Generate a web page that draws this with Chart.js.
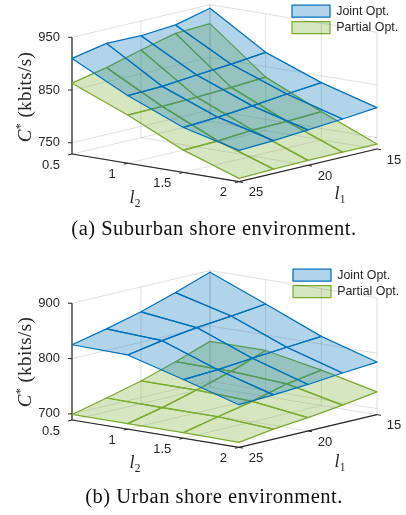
<!DOCTYPE html>
<html><head><meta charset="utf-8">
<style>
html,body{margin:0;padding:0;background:#fff;width:406px;height:515px;overflow:hidden}
body{filter:blur(0.3px)}
.wrap{position:absolute;left:0;width:406px;height:215px}
canvas{display:block}
.t{position:absolute;font-family:"Liberation Serif",serif;color:#262626;white-space:nowrap;transform:translate(-50%,-50%)}
.cap{font-size:20.5px;color:#111;letter-spacing:.5px}
.yl{font-size:19px;letter-spacing:.4px;transform:translate(-50%,-50%) rotate(-90deg)}
.ax{font-size:18px}
.ax sub{font-size:11.5px;font-style:normal;line-height:0}
sup{font-size:12px;line-height:0}
</style></head><body>
<div class="wrap" style="top:0"><canvas id="a" width="406" height="215"></canvas></div>
<div class="wrap" style="top:260px"><canvas id="b" width="406" height="215"></canvas></div>
<div class="t yl" style="left:25px;top:97px"><i>C</i><sup>*</sup> (kbits/s)</div>
<div class="t ax" style="left:135px;top:197px"><i>l</i><sub>2</sub></div>
<div class="t ax" style="left:340px;top:193px"><i>l</i><sub>1</sub></div>
<div class="t cap" style="left:214px;top:228px">(a) Suburban shore environment.</div>
<div class="t yl" style="left:25px;top:362px"><i>C</i><sup>*</sup> (kbits/s)</div>
<div class="t ax" style="left:135px;top:462px"><i>l</i><sub>2</sub></div>
<div class="t ax" style="left:340px;top:461px"><i>l</i><sub>1</sub></div>
<div class="t cap" style="left:214px;top:496px">(b) Urban shore environment.</div>
<script src="https://cdn.jsdelivr.net/npm/chart.js@4"></script>
<script>
// Grid of the surfaces
const l1Values = [25, 22.5, 20, 17.5, 15];
const l2Values = [0.5, 1, 1.5, 2];
const l1Ticks = [25, 20, 15];
const l2Ticks = [0.5, 1, 1.5, 2];
const seriesNames = ['Joint Opt.', 'Partial Opt.'];

// Panel (a) C* in kbits/s: one row per l2, one column per l1
const suburbanJoint = [
  [910, 923, 922, 927, 943],
  [857, 859, 865, 870, 877],
  [814, 818, 824, 831, 837],
  [788, 791, 796, 801, 807]
];
const suburbanPartial = [
  [863, 877, 895, 911, 914],
  [820, 821, 823, 826, 830],
  [771, 773, 778, 779, 782],
  [735, 737, 738, 738, 738]
];
const suburbanZTicks = [750, 850, 950];

// Panel (b)
const urbanJoint = [
  [825, 839, 855, 875, 897],
  [823, 834, 843, 849, 856],
  [795, 798, 804, 809, 814],
  [766, 769, 773, 779, 784]
];
const urbanPartial = [
  [699, 714, 730, 750, 772],
  [699, 713, 730, 749, 772],
  [699, 713, 726, 743, 753],
  [698, 707, 713, 721, 730]
];
const urbanZTicks = [700, 800, 900];

const BLUE = '#0072BD', GREEN = '#77AC30';
const BLUE_FILL = 'rgba(0,114,189,0.3)', GREEN_FILL = 'rgba(119,172,48,0.3)';
const GRID = 'rgba(38,38,38,0.14)', AXIS = '#262626';

function buildChart(id, joint, partial, zTicks, view) {
  const project = (l1, l2, c) => ({
    x: view.ox + (l2 - 0.5) / 1.5 * view.l2v[0] + (25 - l1) / 10 * view.l1v[0],
    y: view.oy + (l2 - 0.5) / 1.5 * view.l2v[1] + (25 - l1) / 10 * view.l1v[1] - (c - view.zMin) * view.zScale
  });
  const line = (pts, color, width) => ({
    data: pts, showLine: true, pointRadius: 0, fill: false, tension: 0,
    borderColor: color, borderWidth: width, label: ''
  });
  const datasets = [];
  // Surfaces; the first dataset is painted last
  [[joint, BLUE, BLUE_FILL, seriesNames[0]], [partial, GREEN, GREEN_FILL, seriesNames[1]]].forEach(([rows, col, fillCol, name]) => {
    let first = true;
    for (let i = 0; i < l2Values.length - 1; i++) {
      for (let j = 0; j < l1Values.length - 1; j++) {
        datasets.push({
          label: first ? name : '',
          data: [
            project(l1Values[j], l2Values[i], rows[i][j]),
            project(l1Values[j + 1], l2Values[i], rows[i][j + 1]),
            project(l1Values[j + 1], l2Values[i + 1], rows[i + 1][j + 1]),
            project(l1Values[j], l2Values[i + 1], rows[i + 1][j]),
            project(l1Values[j], l2Values[i], rows[i][j])
          ],
          showLine: true, pointRadius: 0, tension: 0, fill: 'shape',
          backgroundColor: fillCol, borderColor: col, borderWidth: 1.25, borderJoinStyle: 'round'
        });
        first = false;
      }
    }
  });
  const zMax = zTicks[zTicks.length - 1];
  const l1Far = 15, l1Near = 25, l2Back = 0.5, l2Front = 2;
  // Black axes and their tick marks
  datasets.push(line([project(l1Near, l2Back, view.zMin), project(l1Near, l2Back, zMax)], AXIS, 1.2));
  datasets.push(line([project(l1Near, l2Back, view.zMin), project(l1Near, l2Front, view.zMin)], AXIS, 1.2));
  datasets.push(line([project(l1Near, l2Front, view.zMin), project(l1Far, l2Front, view.zMin)], AXIS, 1.2));
  zTicks.forEach(z => {
    const p = project(l1Near, l2Back, z);
    datasets.push(line([p, {x: p.x - 4, y: p.y}], AXIS, 1));
  });
  l2Ticks.forEach(v => {
    const p = project(l1Near, v, view.zMin);
    datasets.push(line([p, {x: p.x - 4, y: p.y + 1}], AXIS, 1));
  });
  l1Ticks.forEach(v => {
    const p = project(v, l2Front, view.zMin);
    datasets.push(line([p, {x: p.x + 4, y: p.y + 0.8}], AXIS, 1));
  });
  // Light grid on floor and back walls
  l2Ticks.forEach(v => datasets.push(line([
    project(l1Near, v, view.zMin), project(l1Far, v, view.zMin), project(l1Far, v, zMax)], GRID, 1)));
  l1Ticks.forEach(v => datasets.push(line([
    project(v, l2Front, view.zMin), project(v, l2Back, view.zMin), project(v, l2Back, zMax)], GRID, 1)));
  zTicks.forEach(z => datasets.push(line([
    project(l1Near, l2Back, z), project(l1Far, l2Back, z), project(l1Far, l2Front, z)], GRID, 1)));

  const tickLabels = {
    id: 'tickLabels',
    afterDraw(chart) {
      const {ctx, scales: {x, y}} = chart;
      ctx.save();
      ctx.font = '13px "Liberation Sans", Arial, sans-serif';
      ctx.fillStyle = AXIS;
      ctx.textBaseline = 'middle';
      const put = (p, dx, dy, text, align) => {
        ctx.textAlign = align;
        ctx.fillText(text, x.getPixelForValue(p.x) + dx, y.getPixelForValue(p.y) + dy);
      };
      zTicks.forEach(z => put(project(l1Near, l2Back, z), -12, 0, String(z), 'right'));
      l2Ticks.forEach(v => put(project(l1Near, v, view.zMin), -12, 11, String(v), 'right'));
      l1Ticks.forEach(v => put(project(v, l2Front, view.zMin), 17, 11, String(v), 'center'));
      ctx.restore();
    }
  };
  const placeLegend = {
    id: 'placeLegend',
    afterLayout(chart) {
      chart.legend.left = view.legendX;
      chart.legend.top = view.legendY;
    }
  };

  return new Chart(document.getElementById(id), {
    type: 'scatter',
    data: {datasets},
    plugins: [tickLabels, placeLegend],
    options: {
      responsive: false, animation: false, events: [],
      layout: {padding: 0},
      clip: false,
      scales: {
        x: {type: 'linear', min: 0, max: 406, display: false},
        y: {type: 'linear', min: 0, max: 215, reverse: true, display: false}
      },
      plugins: {
        tooltip: {enabled: false},
        legend: {
          position: 'chartArea', align: 'start',
          labels: {
            boxWidth: 38, boxHeight: 12, padding: 4,
            color: AXIS,
            font: {family: '"Liberation Sans", Arial, sans-serif', size: 12.4},
            filter: item => item.text !== ''
          }
        }
      }
    }
  });
}

buildChart('a', suburbanJoint, suburbanPartial, suburbanZTicks, {
  ox: 72, oy: 154, l2v: [167, 27.7], l1v: [138, -32.7], zMin: 728.6, zScale: 0.527, legendX: 288, legendY: 1
});
buildChart('b', urbanJoint, urbanPartial, urbanZTicks, {
  ox: 72, oy: 160, l2v: [167, 27.3], l1v: [138, -32.7], zMin: 689, zScale: 0.5533, legendX: 289, legendY: 5
});
</script>
</body></html>
